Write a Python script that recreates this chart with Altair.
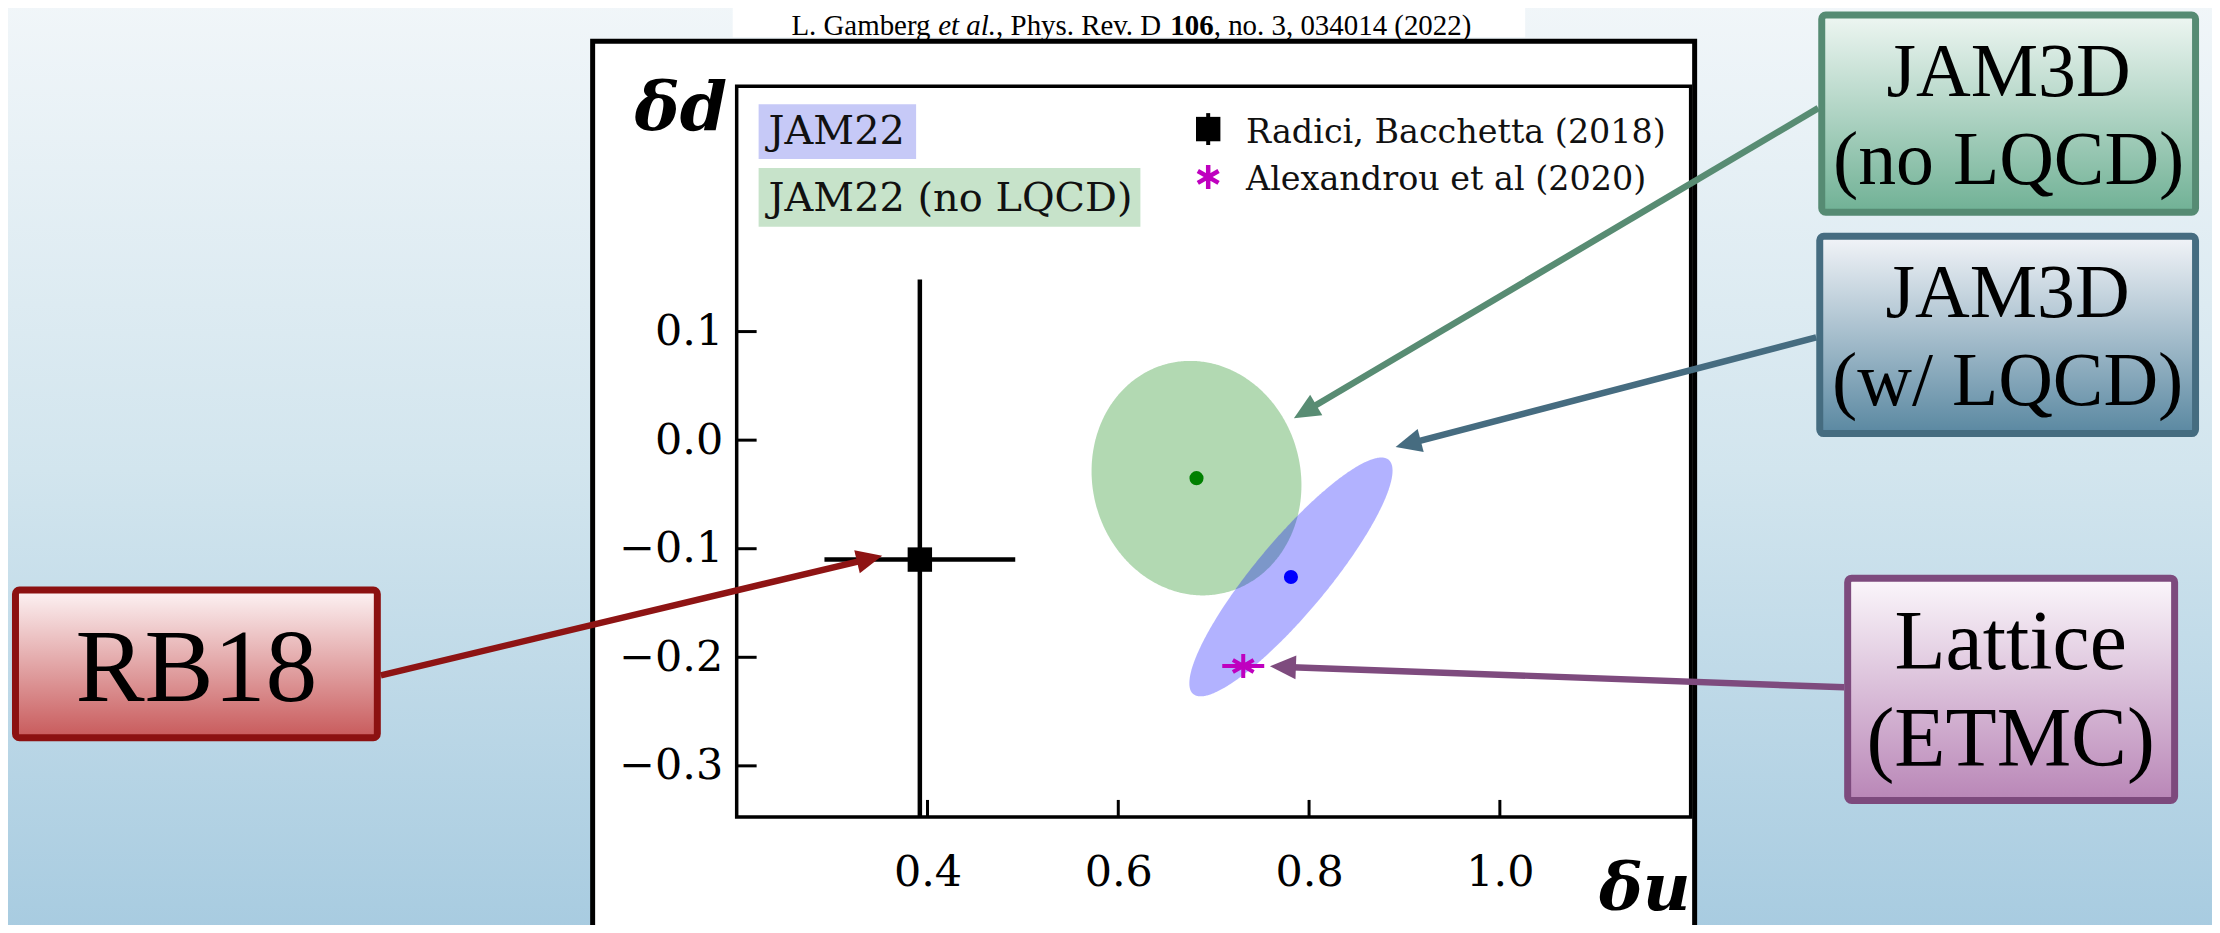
import math
import numpy as np
import pandas as pd
import altair as alt

# ------------------------------------------------------------------ data
fit_names    = ["JAM22 (no LQCD)", "JAM22"]
fit_du       = [0.682, 0.781]
fit_dd       = [-0.035, -0.126]
fit_du_sigma = [0.110, 0.1065]
fit_dd_sigma = [0.108, 0.110]
fit_corr     = [-0.06, 0.89]

rb18_du     = [0.392]
rb18_dd     = [-0.110]
rb18_du_err = [0.100]
rb18_dd_err = [0.258]

etmc_du     = [0.731]
etmc_dd     = [-0.208]
etmc_du_err = [0.022]

x_tick_values = [0.4, 0.6, 0.8, 1.0]
y_tick_values = [-0.3, -0.2, -0.1, 0.0, 0.1]

legend_fit_labels = ["JAM22", "JAM22 (no LQCD)"]
legend_pt_labels  = ["Radici, Bacchetta (2018)", "Alexandrou et al (2020)"]
citation_parts    = ["L. Gamberg ", "et al.", ", Phys. Rev. D ", "106", ", no. 3, 034014 (2022)"]
box_lines = [["JAM3D", "(no LQCD)"], ["JAM3D", "(w/ LQCD)"], ["RB18"], ["Lattice", "(ETMC)"]]

# ---------------------------------------------------------------- layout
MARGIN = 8
PX0, PY0 = 739, 85          # page position of the plot area
W, H = 957, 733
X_DOM = [0.2, 1.2]
Y_DOM = [-0.347, 0.326]
FIT_COLORS = ["#008000", "#0000ff"]
MAGENTA = "#bf00bf"

ONE = pd.DataFrame({"k": [0]})


def rx(v):
    return v - PX0


def ry(v):
    return v - PY0


XS = alt.Scale(domain=X_DOM, nice=False, zero=False)
YS = alt.Scale(domain=Y_DOM, nice=False, zero=False)
X_AX = alt.Axis(values=x_tick_values, format=".1f", title=None, labelPadding=35, zindex=5)
Y_AX = alt.Axis(values=y_tick_values, format=".1f", title=None, labelPadding=14, zindex=5)


def X(f):
    return alt.X(f, type="quantitative", scale=XS, axis=X_AX)


def Y(f):
    return alt.Y(f, type="quantitative", scale=YS, axis=Y_AX)


def rect_layer(x0, x1, y0, y1, **mark):
    return alt.Chart(ONE).mark_rect(**mark).encode(
        x=alt.value(rx(x0)), x2=alt.value(rx(x1)),
        y=alt.value(ry(y0)), y2=alt.value(ry(y1)))


def text_layer(text, x, y, **mark):
    return alt.Chart(ONE).mark_text(**mark).encode(
        x=alt.value(rx(x)), y=alt.value(ry(y)), text=alt.value(text))


def grad(top, bottom, mid=None):
    stops = [alt.GradientStop(color=top, offset=0)]
    if mid is not None:
        stops.append(alt.GradientStop(color=mid, offset=0.5))
    stops.append(alt.GradientStop(color=bottom, offset=1))
    return alt.LinearGradient(gradient="linear", stops=stops, x1=0, x2=0, y1=0, y2=1)


layers = []

# slide background
layers.append(rect_layer(0, 2220, 0, 940, fill=grad("#f1f6f9", "#a7cbe0", "#d2e5ee")))

# white figure frame
layers.append(rect_layer(594.5, 1700, 40, 960, fill="white", stroke="black", strokeWidth=5))

# citation
layers.append(rect_layer(735, 1530, 0, 36, fill="white"))
seg_em = [5.082, 2.000, 6.028, 1.500, 8.916]
cit_size = 29
cx = 1135 - sum(seg_em) * cit_size / 2
styles = [("normal", "normal"), ("italic", "normal"), ("normal", "normal"),
          ("normal", "bold"), ("normal", "normal")]
for part, em, (fs, fw) in zip(citation_parts, seg_em, styles):
    layers.append(text_layer(part, cx, 34, font="Liberation Serif", fontSize=cit_size,
                             fontStyle=fs, fontWeight=fw, align="left",
                             baseline="alphabetic", color="black"))
    cx += em * cit_size

# legend patches (upper left)
layers.append(rect_layer(761, 919, 103, 158, fill="#c6c9f7"))
layers.append(text_layer(legend_fit_labels[0], 771, 143, font="DejaVu Serif", fontSize=40,
                         align="left", baseline="alphabetic", color="#111111"))
layers.append(rect_layer(761, 1144, 167, 226, fill="#c7e3ca"))
layers.append(text_layer(legend_fit_labels[1], 771, 210, font="DejaVu Serif", fontSize=40,
                         align="left", baseline="alphabetic", color="#111111"))

# ellipses of the fits
for i in range(len(fit_names)):
    th = np.linspace(0.0, np.pi, 241)
    d = np.cos(th)
    r = fit_corr[i]
    mid = fit_dd[i] + r * fit_dd_sigma[i] * d
    half = fit_dd_sigma[i] * math.sqrt(1 - r * r) * np.sqrt(np.clip(1 - d * d, 0, None))
    band = pd.DataFrame({"du": fit_du[i] + fit_du_sigma[i] * d,
                         "lo": mid - half, "hi": mid + half}).sort_values("du")
    layers.append(alt.Chart(band).mark_area(color=FIT_COLORS[i], opacity=0.3).encode(
        x=X("du"), y=Y("hi"), y2=alt.Y2("lo")))

for i in range(len(fit_names)):
    c = pd.DataFrame({"du": [fit_du[i]], "dd": [fit_dd[i]]})
    layers.append(alt.Chart(c).mark_circle(color=FIT_COLORS[i], size=200, opacity=1).encode(
        x=X("du"), y=Y("dd")))

# RB18 point with error bars
rb = pd.DataFrame({"du": rb18_du, "dd": rb18_dd,
                   "du_lo": [a - b for a, b in zip(rb18_du, rb18_du_err)],
                   "du_hi": [a + b for a, b in zip(rb18_du, rb18_du_err)],
                   "dd_lo": [a - b for a, b in zip(rb18_dd, rb18_dd_err)],
                   "dd_hi": [a + b for a, b in zip(rb18_dd, rb18_dd_err)]})
layers.append(alt.Chart(rb).mark_rule(color="black", strokeWidth=4.5, clip=True).encode(
    x=X("du_lo"), x2=alt.X2("du_hi"), y=Y("dd")))
layers.append(alt.Chart(rb).mark_rule(color="black", strokeWidth=4.5, clip=True).encode(
    x=X("du"), y=Y("dd_lo"), y2=alt.Y2("dd_hi")))
layers.append(alt.Chart(rb).mark_point(shape="square", filled=True, color="black",
                                       size=600, opacity=1).encode(x=X("du"), y=Y("dd")))

# ETMC lattice point
ASTER = "M0,-1L0,1M-0.866,-0.5L0.866,0.5M-0.866,0.5L0.866,-0.5"
et = pd.DataFrame({"du": etmc_du, "dd": etmc_dd,
                   "du_lo": [a - b for a, b in zip(etmc_du, etmc_du_err)],
                   "du_hi": [a + b for a, b in zip(etmc_du, etmc_du_err)]})
layers.append(alt.Chart(et).mark_rule(color=MAGENTA, strokeWidth=4).encode(
    x=X("du_lo"), x2=alt.X2("du_hi"), y=Y("dd")))
layers.append(alt.Chart(et).mark_point(shape=ASTER, filled=False, color=MAGENTA,
                                       size=576, strokeWidth=4, opacity=1).encode(
    x=X("du"), y=Y("dd")))

# right legend
layers.append(alt.Chart(ONE).mark_rule(color="black", strokeWidth=4).encode(
    x=alt.value(rx(1212)), y=alt.value(ry(112)), y2=alt.value(ry(144))))
layers.append(alt.Chart(ONE).mark_point(shape="square", filled=True, color="black",
                                        size=600, opacity=1).encode(
    x=alt.value(rx(1212)), y=alt.value(ry(128))))
layers.append(text_layer(legend_pt_labels[0], 1250, 142, font="DejaVu Serif", fontSize=33.5,
                         align="left", baseline="alphabetic", color="#111111"))
layers.append(alt.Chart(ONE).mark_point(shape=ASTER, filled=False, color=MAGENTA,
                                        size=576, strokeWidth=4.5, opacity=1).encode(
    x=alt.value(rx(1212)), y=alt.value(ry(176))))
layers.append(text_layer(legend_pt_labels[1], 1250, 189, font="DejaVu Serif", fontSize=33.5,
                         align="left", baseline="alphabetic", color="#111111"))

# plot frame and inward ticks
layers.append(rect_layer(PX0, PX0 + W, PY0, PY0 + H, fill="transparent",
                         stroke="black", strokeWidth=3.5))
layers.append(alt.Chart(pd.DataFrame({"v": x_tick_values})).mark_rule(
    color="black", strokeWidth=3).encode(x=X("v"), y=alt.value(H), y2=alt.value(H - 17)))
layers.append(alt.Chart(pd.DataFrame({"v": y_tick_values})).mark_rule(
    color="black", strokeWidth=3).encode(y=Y("v"), x=alt.value(0), x2=alt.value(20)))

# axis titles
layers.append(text_layer("δd", 683, 129, font="DejaVu Serif", fontSize=68,
                         fontStyle="italic", fontWeight="bold", align="center",
                         baseline="alphabetic", color="black"))
layers.append(text_layer("δu", 1650, 911, font="DejaVu Serif", fontSize=66,
                         fontStyle="italic", fontWeight="bold", align="center",
                         baseline="alphabetic", color="black"))

# arrows (tail at a box, tip at the feature)
arrows = [
    (382, 676, 885, 556, "#8e1414"),
    (1824, 107, 1298, 418, "#588c73"),
    (1822, 337, 1400, 447, "#466c80"),
    (1850, 688, 1274, 667, "#7e4b7e"),
]
HEAD_LEN = 26
rows = []
for tx, ty, hx, hy, col in arrows:
    dx, dy = hx - tx, hy - ty
    L = math.hypot(dx, dy)
    ux, uy = dx / L, dy / L
    rows.append({"tx": rx(tx), "ty": ry(ty),
                 "bx": rx(hx - ux * (HEAD_LEN - 4)), "by": ry(hy - uy * (HEAD_LEN - 4)),
                 "hx": rx(hx), "hy": ry(hy),
                 "ang": math.degrees(math.atan2(dy, dx)) % 360, "col": col})
adf = pd.DataFrame(rows)
layers.append(alt.Chart(adf).mark_rule(strokeWidth=6.5, strokeCap="butt").encode(
    x=alt.X("tx:Q", scale=None, axis=None), y=alt.Y("ty:Q", scale=None, axis=None),
    x2="bx:Q", y2="by:Q", color=alt.Color("col:N", scale=None, legend=None)))
layers.append(alt.Chart(adf).mark_point(shape="M0,0L-1,-0.46L-1,0.46Z", filled=True,
                                        size=(2 * HEAD_LEN) ** 2, opacity=1).encode(
    x=alt.X("hx:Q", scale=None, axis=None), y=alt.Y("hy:Q", scale=None, axis=None),
    angle=alt.Angle("ang:Q", scale=None),
    color=alt.Color("col:N", scale=None, legend=None)))

# annotation boxes
boxes = [
    dict(x0=1824, x1=2206, y0=10, y1=215, border="#568b73", top="#eef6f2", bottom="#70b195",
         size=76, cx=2015, base=[95, 183]),
    dict(x0=1822, x1=2206, y0=232, y1=437, border="#456c80", top="#f2f4f8", bottom="#5a88a1",
         size=76, cx=2014, base=[317, 405]),
    dict(x0=12, x1=382, y0=587, y1=742, border="#8c1111", top="#fdf3f4", bottom="#c85a5b",
         size=104, cx=197, base=[702]),
    dict(x0=1850, x1=2185, y0=575, y1=805, border="#7d4a7d", top="#fbf7fb", bottom="#b986b7",
         size=84, cx=2017, base=[670, 767]),
]
for b, lines in zip(boxes, box_lines):
    layers.append(rect_layer(b["x0"] + 3.5, b["x1"] - 3.5, b["y0"] + 3.5, b["y1"] - 3.5,
                             fill=grad(b["top"], b["bottom"]), stroke=b["border"],
                             strokeWidth=7, cornerRadius=4))
    for line, yb in zip(lines, b["base"]):
        layers.append(text_layer(line, b["cx"], yb, font="Liberation Serif",
                                 fontSize=b["size"], align="center",
                                 baseline="alphabetic", color="black"))

chart = alt.layer(*layers).properties(
    width=W, height=H,
    padding={"left": PX0 - MARGIN, "top": PY0 - MARGIN,
             "right": 2219 - (PX0 + W), "bottom": 925 - (PY0 + H)},
    autosize=alt.AutoSizeParams(type="none"),
).configure_view(stroke="transparent").configure_axis(
    labelFont="DejaVu Serif", labelFontSize=43, labelColor="black",
    domain=False, ticks=False, grid=False,
)

chart.save("out.html", embed_options={"renderer": "svg", "actions": False})
